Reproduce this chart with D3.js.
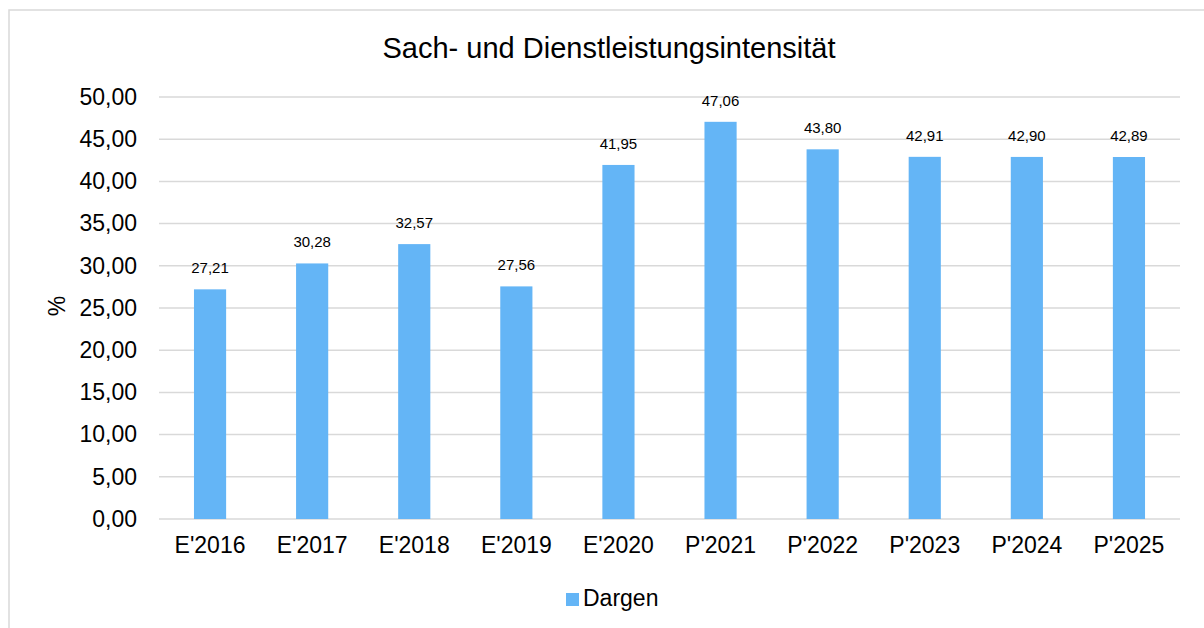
<!DOCTYPE html>
<html>
<head>
<meta charset="utf-8">
<script src="https://cdn.jsdelivr.net/npm/d3@7"></script>
<style>
  body { margin: 0; background: #fff; }
  svg { display: block; font-family: "Liberation Sans", Arial, sans-serif; }
</style>
</head>
<body>
<svg id="chart" width="1204" height="628"></svg>
<script>
// data
const categories = ["E'2016", "E'2017", "E'2018", "E'2019", "E'2020", "P'2021", "P'2022", "P'2023", "P'2024", "P'2025"];
const values = [27.21, 30.28, 32.57, 27.56, 41.95, 47.06, 43.80, 42.91, 42.90, 42.89];
const yTicks = [0, 5, 10, 15, 20, 25, 30, 35, 40, 45, 50];
const seriesName = "Dargen";
const chartTitle = "Sach- und Dienstleistungsintensität";

const barColor = "#64b5f6";
const gridColor = "#d9d9d9";

let svg = d3.select("#chart");
let m = { top: 97, right: 24, bottom: 109, left: 159 };
let width = +svg.attr("width") - m.left - m.right;
let height = +svg.attr("height") - m.top - m.bottom;

let fmt = v => d3.format(".2f")(v).replace(".", ",");

// outer frame
svg.append("rect")
    .attr("x", 9).attr("y", 10)
    .attr("width", 1220).attr("height", 640)
    .attr("fill", "none")
    .attr("stroke", gridColor)
    .attr("stroke-width", 1.5);

svg.append("text")
    .attr("x", 609).attr("y", 58)
    .attr("text-anchor", "middle")
    .style("font-size", "29px")
    .text(chartTitle);

let g = svg.append("g").attr("transform", `translate(${m.left},${m.top})`);

let x = d3.scaleBand().domain(categories).range([0, width]).paddingInner(0.685).paddingOuter(0.3425);
let y = d3.scaleLinear().domain([0, 50]).range([height, 0]);

// gridlines
g.append("g")
    .selectAll("line")
    .data(yTicks)
    .join("line")
    .attr("x1", 0).attr("x2", width)
    .attr("y1", d => y(d)).attr("y2", d => y(d))
    .attr("stroke", gridColor)
    .attr("stroke-width", 1.5);

// y axis labels
let yAxis = g.append("g")
    .call(d3.axisLeft(y).tickValues(yTicks).tickFormat(fmt).tickSize(0).tickPadding(22));
yAxis.select(".domain").remove();
yAxis.selectAll("text").style("font-size", "23px").attr("fill", "#000");

// x axis labels
let xAxis = g.append("g")
    .attr("transform", `translate(0,${height})`)
    .call(d3.axisBottom(x).tickSize(0).tickPadding(18));
xAxis.select(".domain").remove();
xAxis.selectAll("text").style("font-size", "23px").attr("fill", "#000");

// bars
g.selectAll(".bar")
    .data(values)
    .join("rect")
    .attr("class", "bar")
    .attr("x", (d, i) => x(categories[i]))
    .attr("y", d => y(d))
    .attr("width", x.bandwidth())
    .attr("height", d => height - y(d))
    .attr("fill", barColor);

// value labels
g.selectAll(".val")
    .data(values)
    .join("text")
    .attr("class", "val")
    .attr("x", (d, i) => x(categories[i]) + x.bandwidth() / 2)
    .attr("y", d => y(d) - 16)
    .attr("text-anchor", "middle")
    .style("font-size", "15px")
    .text(fmt);

// axis title
svg.append("text")
    .attr("transform", "translate(65,306) rotate(-90)")
    .attr("text-anchor", "middle")
    .style("font-size", "23px")
    .text("%");

// legend
let leg = svg.append("g").attr("transform", "translate(566,593)");
leg.append("rect").attr("width", 13).attr("height", 13).attr("fill", barColor);
leg.append("text").attr("x", 17).attr("y", 13).style("font-size", "23px").text(seriesName);
</script>
</body>
</html>
